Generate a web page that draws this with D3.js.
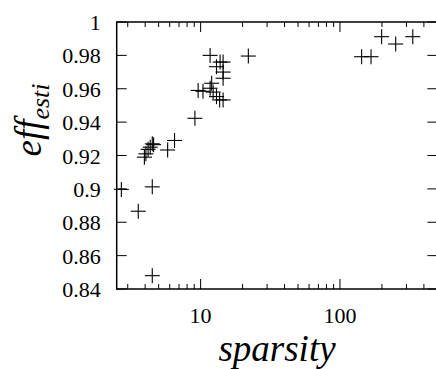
<!DOCTYPE html>
<html><head><meta charset="utf-8"><script src="https://cdn.jsdelivr.net/npm/d3@7"></script></head>
<body style="margin:0">
<svg id="chart" width="436" height="369"></svg>
<script>
// data
var sparsity = [2.7, 3.57, 4.5, 4.5, 3.95, 4.05, 4.2, 4.35, 4.5, 4.6, 5.8, 6.5, 9.1,
    9.6, 10.4, 11.7, 11.7, 12.0, 12.3, 13.0, 13.0, 13.7, 14.5, 13.8, 14.5, 14.5, 14.5,
    22.0, 143, 167, 199, 251, 333];
var effEsti = [0.8997, 0.8866, 0.9012, 0.848, 0.919, 0.921, 0.9237, 0.925, 0.927, 0.9265, 0.9233, 0.929, 0.9423,
    0.959, 0.9585, 0.980, 0.9603, 0.9633, 0.958, 0.9732, 0.9553, 0.9533, 0.9533, 0.976, 0.976, 0.970, 0.9663,
    0.9796, 0.9792, 0.9792, 0.9912, 0.9868, 0.9912];
var yTicks = [0.84, 0.86, 0.88, 0.9, 0.92, 0.94, 0.96, 0.98, 1];
var xLabelTicks = [10, 100];

var fontFam = "Liberation Serif";

var margin = {top: 22, left: 116.7};
var svg = d3.select("#chart");
var w = 437.4 - margin.left;
var h = 289 - margin.top;

var x = d3.scaleLog().domain([2.5, 500]).range([margin.left, margin.left + w]);
var y = d3.scaleLinear().domain([0.84, 1]).range([margin.top + h, margin.top]);

// minor/major x ticks, mirrored on top
var xMinor = [];
[1, 10, 100].forEach(function(dec) {
    for (var k = 1; k < 10; k++) {
        var v = dec * k;
        if (v >= 2.5 && v <= 500) xMinor.push(v);
    }
});

var ticks = svg.append("g").attr("stroke", "#000").attr("stroke-width", 1);
xMinor.forEach(function(v) {
    var len = (v === 10 || v === 100) ? 10 : 5;
    ticks.append("line").attr("x1", x(v)).attr("x2", x(v)).attr("y1", y(0.84)).attr("y2", y(0.84) - len);
    ticks.append("line").attr("x1", x(v)).attr("x2", x(v)).attr("y1", y(1)).attr("y2", y(1) + len);
});
yTicks.forEach(function(v) {
    ticks.append("line").attr("x1", x(2.5)).attr("x2", x(2.5) + 10).attr("y1", y(v)).attr("y2", y(v));
    ticks.append("line").attr("x1", x(500)).attr("x2", x(500) - 10).attr("y1", y(v)).attr("y2", y(v));
});

// frame
svg.append("rect")
    .attr("x", margin.left).attr("y", margin.top)
    .attr("width", w).attr("height", h)
    .attr("fill", "none").attr("stroke", "#000").attr("stroke-width", 1.5);

// tick labels
svg.selectAll(".ylab").data(yTicks).enter().append("text")
    .attr("class", "ylab")
    .style("font-family", fontFam, "important")
    .style("font-size", "22px", "important")
    .attr("text-anchor", "end")
    .attr("x", margin.left - 16)
    .attr("y", function(d) { return y(d) + 8; })
    .text(function(d) { return String(d); });

svg.selectAll(".xlab").data(xLabelTicks).enter().append("text")
    .attr("class", "xlab")
    .style("font-family", fontFam, "important")
    .style("font-size", "22px", "important")
    .attr("text-anchor", "middle")
    .attr("x", function(d) { return x(d); })
    .attr("y", y(0.84) + 34)
    .text(function(d) { return String(d); });

// points as crosses
var pts = svg.append("g").attr("stroke", "#000").attr("stroke-width", 1.1);
sparsity.forEach(function(s, i) {
    var cx = x(s), cy = y(effEsti[i]), r = 7.5;
    pts.append("line").attr("x1", cx - r).attr("x2", cx + r).attr("y1", cy).attr("y2", cy);
    pts.append("line").attr("x1", cx).attr("x2", cx).attr("y1", cy - r).attr("y2", cy + r);
});

// axis titles
svg.append("text")
    .style("font-family", fontFam, "important")
    .style("font-size", "37px", "important")
    .style("font-style", "italic", "important")
    .attr("text-anchor", "middle")
    .attr("x", 277)
    .attr("y", 361)
    .text("sparsity");

var yt = svg.append("text")
    .style("font-family", fontFam, "important")
    .style("font-size", "37px", "important")
    .style("font-style", "italic", "important")
    .attr("text-anchor", "middle")
    .attr("transform", "translate(41,120)rotate(-90)");
yt.append("tspan").text("eff");
yt.append("tspan").attr("dy", 8).style("font-size", "26px", "important").text("esti");
</script>
</body></html>
